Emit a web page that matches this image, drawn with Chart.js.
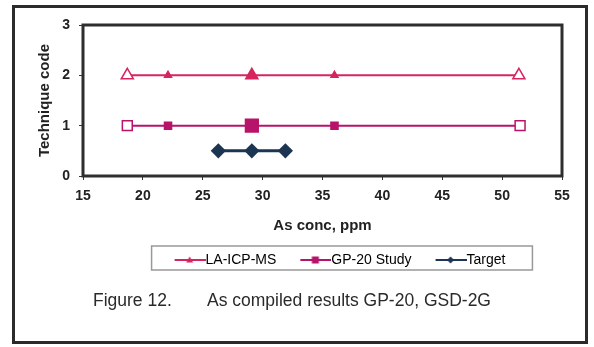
<!DOCTYPE html>
<html>
<head>
<meta charset="utf-8">
<script src="https://cdn.jsdelivr.net/npm/chart.js@4"></script>
<style>
  body { margin: 0; background: #fff; }
  #frame { position: absolute; left: 12px; top: 5px; width: 570px; height: 333px; border: 3px solid #2b2b2b; }
  #wrap { position: absolute; left: 0; top: 0; width: 594px; height: 347px; }
  .cap { position: absolute; top: 290px; line-height: 20px; font: 17.5px "Liberation Sans", Arial, sans-serif; color: #2a2a2a; white-space: pre; }
</style>
</head>
<body>
<div id="frame"></div>
<div id="wrap"><canvas id="myChart" width="594" height="347"></canvas></div>
<div class="cap" style="left:93px">Figure 12.</div>
<div class="cap" style="left:207px">As compiled results GP-20, GSD-2G</div>
<script>
const laX = [18.7, 22.1, 29.1, 36.0, 51.4];
const laY = [2, 2, 2, 2, 2];
const gpX = [18.7, 22.1, 29.1, 36.0, 51.5];
const gpY = [1, 1, 1, 1, 1];
const targetX = [26.3, 29.1, 31.9];
const targetY = [0.5, 0.5, 0.5];
const xTicks = [15, 20, 25, 30, 35, 40, 45, 50, 55];
const yTicks = [0, 1, 2, 3];

const LA_COLOR = "#d6245f";
const GP_COLOR = "#b8136a";
const TG_COLOR = "#1b3552";
const LEGEND_CENTER = 333;

function pts(xs, ys) {
  return xs.map((x, i) => ({ x: x, y: ys[i] }));
}

// legend sample: line + marker drawn in the right 31px of a 52px image
function legendIcon(color, style) {
  const c = document.createElement("canvas");
  c.width = 52;
  c.height = 10;
  const g = c.getContext("2d");
  g.strokeStyle = color;
  g.fillStyle = color;
  g.lineWidth = 2;
  g.beginPath();
  g.moveTo(21, 5);
  g.lineTo(52, 5);
  g.stroke();
  g.beginPath();
  const m = 36;
  if (style === "triangle") {
    g.moveTo(m, 1.5); g.lineTo(m + 3.5, 7.5); g.lineTo(m - 3.5, 7.5);
  } else if (style === "rect") {
    g.rect(m - 3.5, 1.5, 7, 7);
  } else {
    g.moveTo(m, 1.5); g.lineTo(m + 3.5, 5); g.lineTo(m, 8.5); g.lineTo(m - 3.5, 5);
  }
  g.closePath();
  g.fill();
  return c;
}

const frameBox = {
  id: "frameBox",
  afterLayout(chart) {
    const lg = chart.legend;
    const shift = LEGEND_CENTER - (lg.left + lg.right) / 2;
    lg.left += shift;
    lg.right += shift;
  },
  afterDraw(chart) {
    const a = chart.chartArea;
    const ctx = chart.ctx;
    ctx.save();
    ctx.strokeStyle = "#2e2e2e";
    ctx.lineWidth = 3;
    ctx.strokeRect(a.left, a.top, a.right - a.left, a.bottom - a.top);
    const hb = chart.legend.legendHitBoxes;
    if (hb && hb.length) {
      const l = Math.min(...hb.map(h => h.left)) - 9;
      const r = Math.max(...hb.map(h => h.left + h.width)) + 27;
      const t = hb[0].top - 7;
      const b = hb[0].top + hb[0].height + 3;
      ctx.strokeStyle = "#999";
      ctx.lineWidth = 1.5;
      ctx.strokeRect(l, t, r - l, b - t);
    }
    ctx.restore();
  }
};

const icons = [legendIcon(LA_COLOR, "triangle"), legendIcon(GP_COLOR, "rect"), legendIcon(TG_COLOR, "rectRot")];
const tickFont = { family: "Liberation Sans", size: 14, weight: "bold" };
const titleFont = { family: "Liberation Sans", size: 15, weight: "bold" };

new Chart(document.getElementById("myChart"), {
  type: "scatter",
  data: {
    datasets: [
      {
        label: "LA-ICP-MS",
        data: pts(laX, laY),
        showLine: true,
        borderColor: LA_COLOR,
        borderWidth: 2,
        pointStyle: "triangle",
        pointRadius: [7, 4, 7, 4, 7],
        pointBackgroundColor: ["#fff", LA_COLOR, LA_COLOR, LA_COLOR, "#fff"],
        pointBorderColor: LA_COLOR,
        pointBorderWidth: 1.5,
      },
      {
        label: "GP-20 Study",
        data: pts(gpX, gpY),
        showLine: true,
        borderColor: GP_COLOR,
        borderWidth: 2,
        pointStyle: "rect",
        pointRadius: [7, 5, 9, 5, 7],
        pointBackgroundColor: ["#fff", GP_COLOR, GP_COLOR, GP_COLOR, "#fff"],
        pointBorderColor: GP_COLOR,
        pointBorderWidth: 1.5,
      },
      {
        label: "Target",
        data: pts(targetX, targetY),
        showLine: true,
        borderColor: TG_COLOR,
        borderWidth: 3,
        pointStyle: "rectRot",
        pointRadius: 5.5,
        pointBackgroundColor: TG_COLOR,
        pointBorderColor: TG_COLOR,
      },
    ],
  },
  options: {
    responsive: false,
    animation: false,
    layout: { padding: { left: 30, right: 32, top: 25, bottom: 70 } },
    plugins: {
      tooltip: { enabled: false },
      legend: {
        position: "bottom",
        labels: {
          usePointStyle: true,
          pointStyleWidth: 38,
          padding: 10,
          color: "#222",
          font: { family: "Liberation Sans", size: 14 },
          generateLabels(chart) {
            return chart.data.datasets.map((d, i) => ({
              text: d.label,
              pointStyle: icons[i],
              fillStyle: d.borderColor,
              strokeStyle: d.borderColor,
              lineWidth: 0,
              datasetIndex: i,
            }));
          },
        },
      },
    },
    scales: {
      x: {
        type: "linear",
        min: 15,
        max: 55,
        afterBuildTicks(s) { s.ticks = xTicks.map(v => ({ value: v })); },
        afterFit(s) { s.height = 67; },
        grid: { drawOnChartArea: false, color: "#333", tickLength: 4 },
        border: { display: false },
        ticks: { color: "#222", padding: 8, font: tickFont },
        title: { display: true, text: "As conc, ppm", color: "#222", padding: { top: 4, bottom: 8 }, font: titleFont },
      },
      y: {
        type: "linear",
        min: 0,
        max: 3,
        afterBuildTicks(s) { s.ticks = yTicks.map(v => ({ value: v })); },
        afterFit(s) { s.width = 53; },
        grid: { drawOnChartArea: false, color: "#333", tickLength: 4 },
        border: { display: false },
        ticks: { color: "#222", padding: 9, font: tickFont },
        title: { display: true, text: "Technique code", color: "#222", padding: { top: 6, bottom: 4 }, font: titleFont },
      },
    },
  },
  plugins: [frameBox],
});
</script>
</body>
</html>
